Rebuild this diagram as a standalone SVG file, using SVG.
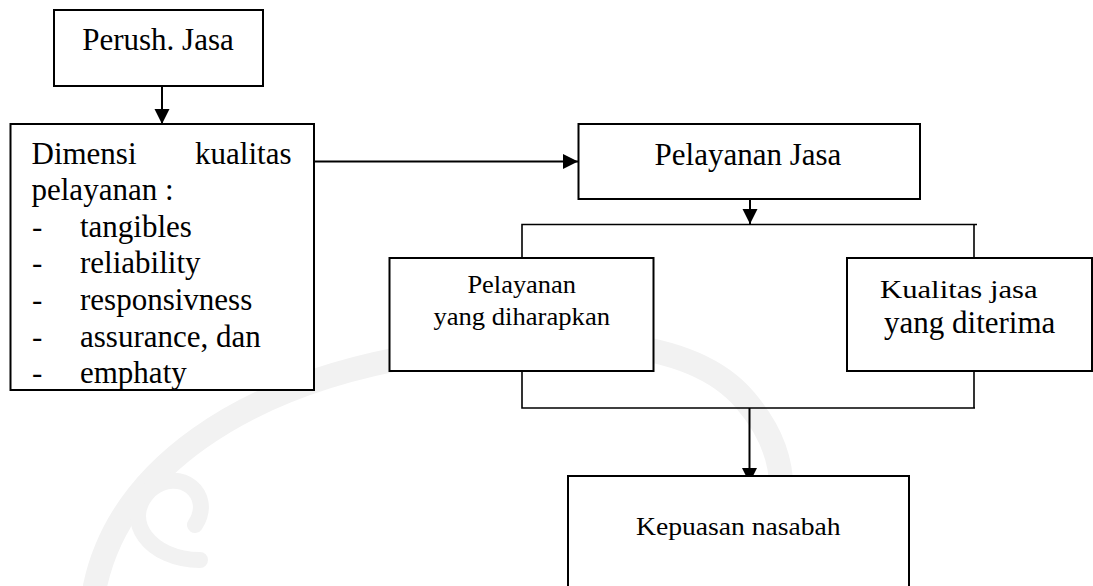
<svg xmlns="http://www.w3.org/2000/svg" width="1093" height="586" viewBox="0 0 1093 586">
  <style>
    .box { fill: #ffffff; stroke: #000000; stroke-width: 2; }
    .wire { fill: none; stroke: #000000; stroke-width: 2; }
    .bracket { fill: none; stroke: #000000; stroke-width: 1.6; }
    .big { font-family: "Liberation Serif", "Times New Roman", serif; font-size: 31px; fill: #000000; }
    .small { font-family: "Liberation Serif", "Times New Roman", serif; font-size: 25px; fill: #000000; }
    .mid { text-anchor: middle; }
    .wm { fill: none; stroke: #f2f2f2; stroke-linecap: round; }
  </style>
  <defs>
    <marker id="arrow" markerUnits="userSpaceOnUse" markerWidth="16" markerHeight="16" refX="15" refY="7.5" orient="auto">
      <path d="M0,0 L15,7.5 L0,15 z" fill="#000000"/>
    </marker>
  </defs>

  <rect width="1093" height="586" fill="#ffffff"/>

  <!-- faint background emblem -->
  <g id="emblem">
    <path class="wm" stroke-width="24" d="M95 586 C 120 470, 240 385, 420 355 C 560 332, 690 335, 745 400 C 775 435, 785 470, 780 505"/>
    <path class="wm" stroke-width="16" d="M200 560 C 150 560, 120 520, 150 490 C 180 465, 215 495, 195 525"/>
  </g>

  <g id="connectors">
    <line class="wire" x1="162" y1="86" x2="162" y2="124" marker-end="url(#arrow)"/>
    <line class="wire" x1="314" y1="161.5" x2="578" y2="161.5" marker-end="url(#arrow)"/>
    <line class="wire" x1="750" y1="199" x2="750" y2="224" marker-end="url(#arrow)"/>
    <polyline class="bracket" points="522,258 522,224.5 977,224.5"/>
    <line class="bracket" x1="974" y1="224.5" x2="974" y2="258"/>
    <polyline class="bracket" points="522,371 522,408 975,408"/>
    <line class="bracket" x1="974" y1="371" x2="974" y2="408"/>
    <line class="wire" x1="749.5" y1="408" x2="749.5" y2="483" marker-end="url(#arrow)"/>
  </g>

  <g id="perusahaan-jasa">
    <rect class="box" x="54" y="10" width="209" height="76"/>
    <text class="big mid" x="158" y="49.5">Perush. Jasa</text>
  </g>

  <g id="dimensi-kualitas">
    <rect class="box" x="10.5" y="124" width="303.5" height="266"/>
    <text class="big" x="31.5" y="163.5">Dimensi</text>
    <text class="big" x="291.5" y="163.5" text-anchor="end">kualitas</text>
    <text class="big" x="31.5" y="200">pelayanan :</text>
    <text class="big" x="32" y="236.5">-</text>
    <text class="big" x="80" y="236.5">tangibles</text>
    <text class="big" x="32" y="273.3">-</text>
    <text class="big" x="80" y="273.3">reliability</text>
    <text class="big" x="32" y="310">-</text>
    <text class="big" x="80" y="310">responsivness</text>
    <text class="big" x="32" y="346.7">-</text>
    <text class="big" x="80" y="346.7">assurance, dan</text>
    <text class="big" x="32" y="383.3">-</text>
    <text class="big" x="80" y="383.3">emphaty</text>
  </g>

  <g id="pelayanan-jasa">
    <rect class="box" x="578.5" y="124" width="341.5" height="75"/>
    <text class="big mid" x="748" y="164.5">Pelayanan Jasa</text>
  </g>

  <g id="pelayanan-diharapkan">
    <rect class="box" x="389.5" y="258" width="264" height="113"/>
    <text class="small mid" transform="translate(521.7 292.7) scale(1.058 1)">Pelayanan</text>
    <text class="small mid" transform="translate(521.7 325) scale(1.065 1)">yang diharapkan</text>
  </g>

  <g id="kualitas-diterima">
    <rect class="box" x="847" y="258" width="245" height="113"/>
    <text class="small mid" transform="translate(958.8 298.3) scale(1.228 1)">Kualitas jasa</text>
    <text class="big mid" x="969.7" y="333.3">yang diterima</text>
  </g>

  <g id="kepuasan-nasabah">
    <rect class="box" x="568" y="476" width="341" height="130"/>
    <text class="small mid" font-size="24" transform="translate(738.3 535) scale(1.105 1)">Kepuasan nasabah</text>
  </g>
</svg>
